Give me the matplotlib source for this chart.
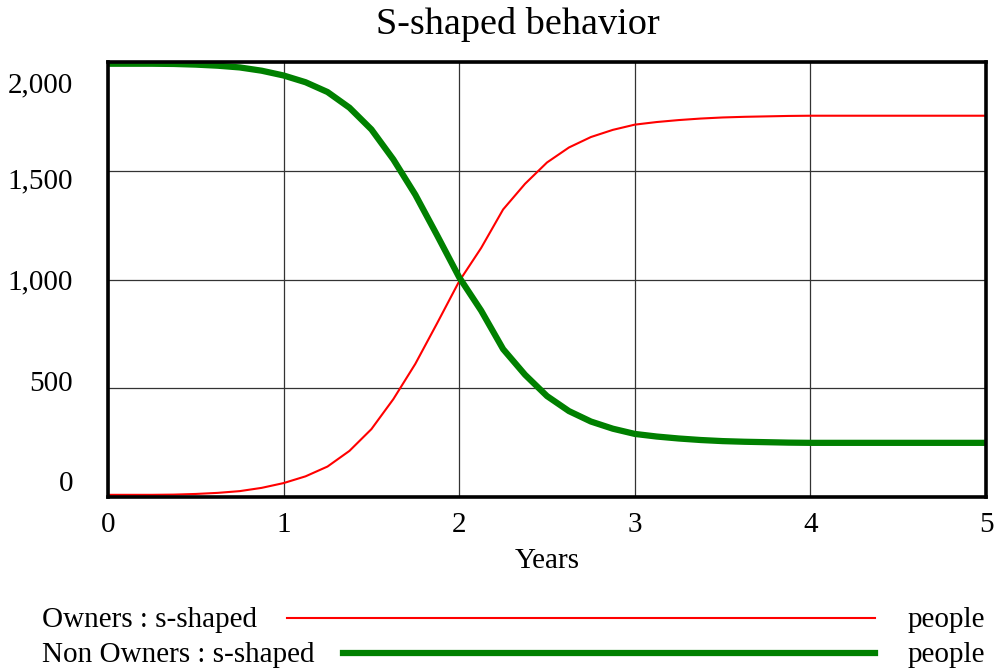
import matplotlib
matplotlib.use("Agg")
import matplotlib.pyplot as plt
from matplotlib.lines import Line2D
from matplotlib.transforms import ScaledTranslation

plt.rcParams['font.family'] = ['Liberation Serif', 'DejaVu Serif']

# simulation output, sampled every 1/8 year
years = [0, 0.125, 0.25, 0.375, 0.5, 0.625, 0.75, 0.875,
         1.0, 1.125, 1.25, 1.375, 1.5, 1.625, 1.75, 1.875,
         2.0, 2.125, 2.25, 2.375, 2.5, 2.625, 2.75, 2.875,
         3.0, 3.125, 3.25, 3.375, 3.5, 3.625, 3.75, 3.875,
         4.0, 4.125, 4.25, 4.375, 4.5, 4.625, 4.75, 4.875, 5.0]
owners = [10, 10, 10, 11, 14, 19, 27, 42,
          64, 95, 140, 212, 312, 450, 612, 800,
          992, 1145, 1322, 1440, 1538, 1607, 1655, 1688,
          1712, 1724, 1733, 1740, 1745, 1748, 1750, 1752,
          1753, 1753, 1753, 1753, 1753, 1753, 1753, 1753, 1753]
non_owners = [1992, 1992, 1992, 1991, 1988, 1983, 1975, 1960,
              1938, 1907, 1862, 1790, 1690, 1552, 1390, 1202,
              1010, 857, 680, 562, 464, 395, 347, 314,
              290, 278, 269, 262, 257, 254, 252, 250,
              249, 249, 249, 249, 249, 249, 249, 249, 249]

yticks = [0, 500, 1000, 1500, 2000]
ytick_labels = ['0', '500', '1,000', '1,500', '2,000']
ylabel_shift = [16, 7, 0, -8, -20]  # px, Vensim squeezes its value labels
xticks = [0, 1, 2, 3, 4, 5]

fig = plt.figure(figsize=(10.06, 6.72), dpi=100)
ax = fig.add_axes([108 / 1006, 1 - 497 / 672, 878 / 1006, 435 / 672])

ax.plot(years, owners, color='#ff0000', lw=1.5, solid_joinstyle='round', zorder=3)
ax.plot(years, non_owners, color='#008000', lw=4.5, solid_joinstyle='round', zorder=3)

ax.set_xlim(0, 5)
ax.set_ylim(0, 2000)
ax.set_xticks(xticks)
ax.set_yticks(yticks)
ax.set_yticklabels(ytick_labels)
ax.grid(True, color='#333333', lw=0.9)
ax.set_axisbelow(True)
ax.tick_params(length=0, labelsize=21)
ax.tick_params(axis='y', pad=25)
ax.tick_params(axis='x', pad=11)
for sp in ax.spines.values():
    sp.set_linewidth(2.6)
    sp.set_zorder(4)

for lab, dy in zip(ax.get_yticklabels(), ylabel_shift):
    lab.set_transform(lab.get_transform() +
                      ScaledTranslation(0, dy / 100, fig.dpi_scale_trans))

ax.set_xlabel('Years', fontsize=21, labelpad=7)
fig.text(518 / 1006, 1 - 24 / 672, 'S-shaped behavior', fontsize=27.5,
         ha='center', va='center')

# legend rows at the bottom, drawn the way Vensim does it
rows = [('Owners : s-shaped', '#ff0000', 1.5, 287, 620),
        ('Non Owners : s-shaped', '#008000', 4.5, 343, 655)]
for name, col, lw, x0, yy in rows:
    yf = 1 - yy / 672
    fig.text(42 / 1006, yf, name, fontsize=21, ha='left', va='center')
    fig.add_artist(Line2D([x0 / 1006, 875 / 1006], [yf + 2 / 672] * 2,
                          color=col, lw=lw, transform=fig.transFigure))
    fig.text(908 / 1006, yf, 'people', fontsize=21, ha='left', va='center')

fig.savefig('out.png', dpi=100)
